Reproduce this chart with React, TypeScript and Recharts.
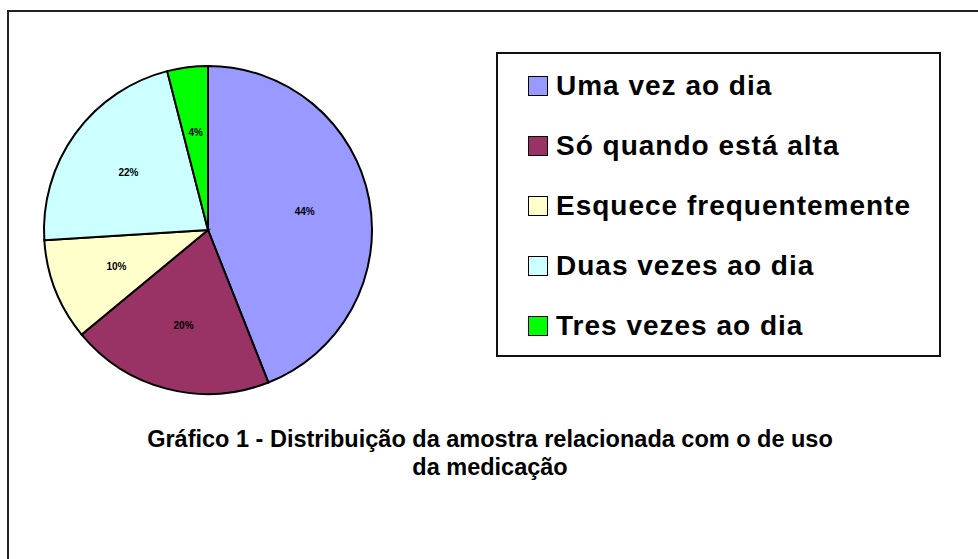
import { Cell, Legend, Pie, PieChart } from "recharts";

const categories = [
  "Uma vez ao dia",
  "Só quando está alta",
  "Esquece frequentemente",
  "Duas vezes ao dia",
  "Tres vezes ao dia",
];
const shares = [44, 20, 10, 22, 4];
const colors = ["#9999FF", "#993366", "#FFFFCC", "#CCFFFF", "#00FF00"];

const titleLines = [
  "Gráfico 1 - Distribuição da amostra relacionada com o de uso",
  "da medicação",
];

const data = categories.map((name, i) => ({ name, value: shares[i] }));
const total = shares.reduce((a, b) => a + b, 0);

const FONT = "'Liberation Sans', Arial, sans-serif";
const RAD = Math.PI / 180;

function SliceLabel(props: any) {
  const { cx, cy, midAngle, outerRadius, value } = props;
  const r = outerRadius * 0.6;
  const x = cx + r * Math.cos(-midAngle * RAD);
  const y = cy + r * Math.sin(-midAngle * RAD);
  return (
    <text
      x={x}
      y={y}
      textAnchor="middle"
      dominantBaseline="central"
      fontFamily={FONT}
      fontWeight="bold"
      fontSize={10}
      fill="#000"
    >
      {Math.round((value / total) * 100)}%
    </text>
  );
}

// legend keeps the slice order, not recharts' alphabetical sort
function LegendBox({ payload }: any) {
  const items = [...(payload || [])].sort(
    (a: any, b: any) => categories.indexOf(a.value) - categories.indexOf(b.value)
  );
  return (
    <div
      style={{
        width: "100%",
        height: "100%",
        border: "2px solid #111",
        boxSizing: "border-box",
        paddingTop: 2,
        background: "#fff",
      }}
    >
      {items.map((p: any) => (
        <div
          key={p.value}
          style={{ display: "flex", alignItems: "center", height: 60, paddingLeft: 30 }}
        >
          <span
            style={{
              width: 18,
              height: 18,
              background: p.color,
              border: "1.5px solid #000",
              marginRight: 8,
              flex: "none",
            }}
          />
          <span
            style={{
              fontFamily: FONT,
              fontWeight: "bold",
              fontSize: 28,
              color: "#000",
              letterSpacing: 1,
              whiteSpace: "nowrap",
            }}
          >
            {p.value}
          </span>
        </div>
      ))}
    </div>
  );
}

export default function App() {
  return (
    <div
      style={{
        position: "absolute",
        left: 0,
        top: 0,
        width: 978,
        height: 559,
        overflow: "hidden",
        background: "#fff",
      }}
    >
      <div
        style={{
          position: "absolute",
          left: 7,
          top: 10,
          width: 1000,
          height: 600,
          border: "2.5px solid #222",
        }}
      />
      <div style={{ position: "absolute", left: 0, top: 0 }}>
        <PieChart width={978} height={559} margin={{ top: 0, right: 0, bottom: 0, left: 0 }}>
          <Pie
            data={data}
            dataKey="value"
            nameKey="name"
            cx={208}
            cy={230}
            outerRadius={164}
            startAngle={90}
            endAngle={-270}
            stroke="#000"
            strokeWidth={2}
            label={SliceLabel}
            labelLine={false}
            isAnimationActive={false}
          >
            {data.map((d, i) => (
              <Cell key={d.name} fill={colors[i]} />
            ))}
          </Pie>
          <Legend
            layout="vertical"
            content={<LegendBox />}
            wrapperStyle={{ left: 496, top: 52, width: 445, height: 305 }}
          />
        </PieChart>
      </div>
      <div
        style={{
          position: "absolute",
          left: 0,
          width: 980,
          top: 425,
          textAlign: "center",
          fontFamily: FONT,
          fontWeight: "bold",
          fontSize: 23.5,
          lineHeight: "28px",
          color: "#000",
        }}
      >
        {titleLines.map((t) => (
          <div key={t}>{t}</div>
        ))}
      </div>
    </div>
  );
}
